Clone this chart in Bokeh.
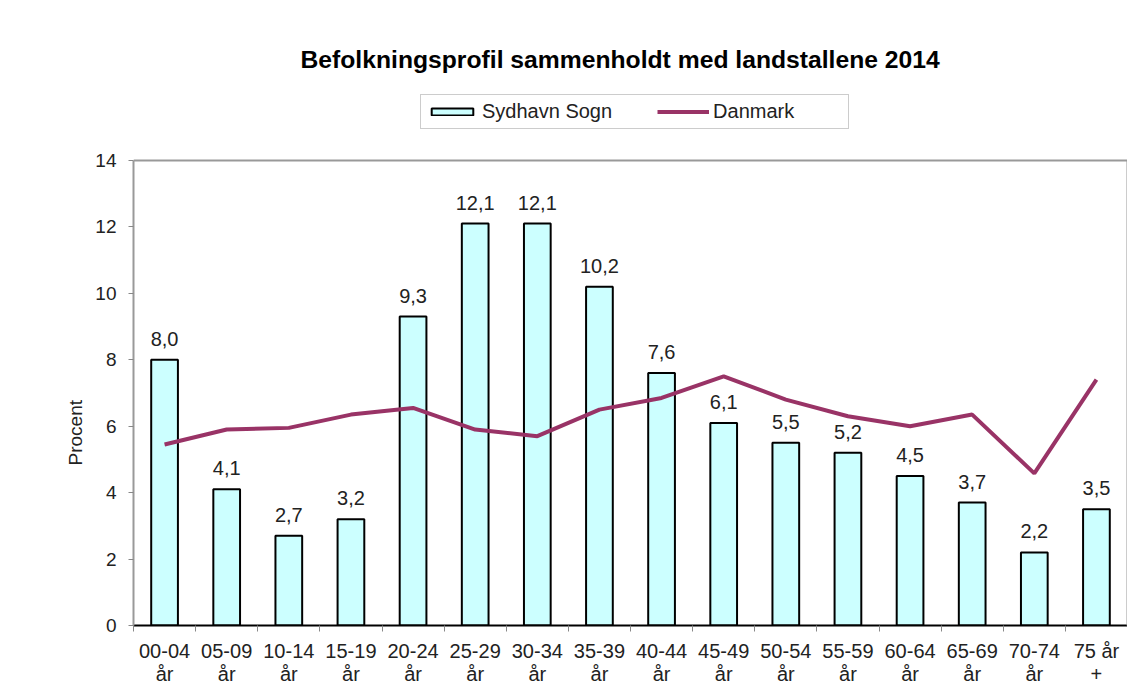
from bokeh.plotting import figure
from bokeh.models import (Range1d, FixedTicker, ColumnDataSource, LabelSet, Legend, LegendItem,
                          Title, Span, LinearAxis)
from bokeh.core.properties import value
from bokeh.embed import file_html
from bokeh.resources import INLINE

categories = ["00-04\når", "05-09\når", "10-14\når", "15-19\når", "20-24\når", "25-29\når",
              "30-34\når", "35-39\når", "40-44\når", "45-49\når", "50-54\når", "55-59\når",
              "60-64\når", "65-69\når", "70-74\når", "75 år\n+"]
sydhavn = [8.0, 4.1, 2.7, 3.2, 9.3, 12.1, 12.1, 10.2, 7.6, 6.1, 5.5, 5.2, 4.5, 3.7, 2.2, 3.5]
danmark = [5.45, 5.9, 5.95, 6.35, 6.55, 5.9, 5.7, 6.5, 6.85, 7.5, 6.8, 6.3, 6.0, 6.35, 4.58, 7.4]
y_ticks = [0, 2, 4, 6, 8, 10, 12, 14]
Y_MAX = 14

FONT = "Liberation Sans"
xs = list(range(len(categories)))
labels = [f"{v:.1f}".replace(".", ",") for v in sydhavn]

src = ColumnDataSource(dict(x=xs, top=sydhavn, dk=danmark, lab=labels))

# frame extends above the value axis so the legend (inside the frame) is not clipped
p = figure(width=1127, height=690, output_backend="svg", toolbar_location=None,
           x_range=Range1d(-0.5, len(categories) - 0.5), y_range=Range1d(0, 16.4086),
           min_border_left=133, min_border_right=0, min_border_top=80, min_border_bottom=65)
p.title = Title(text="Befolkningsprofil sammenholdt med landstallene 2014", align="left",
                text_font=FONT, text_font_size="24.7px", text_font_style="bold",
                text_color="black", offset=167, standoff=15)
p.xgrid.visible = False
p.ygrid.visible = False
p.outline_line_color = None

bars = p.vbar(x="x", top="top", width=0.43, bottom=0, source=src,
              fill_color="#CCFFFF", line_color="black", line_width=2)
line = p.line(x="x", y="dk", source=src, line_color="#993366", line_width=4)

ls = LabelSet(x="x", y="top", text="lab", source=src, text_align="center",
              text_baseline="alphabetic", y_offset=14, text_font=value(FONT),
              text_font_size=value("20px"), text_color="#222222")
p.add_layout(ls)

# top frame line at the axis maximum
p.add_layout(Span(location=Y_MAX, dimension="width", line_color="#999999", line_width=2))

# axes
xa = p.xaxis[0]
xa.ticker = FixedTicker(ticks=xs, minor_ticks=[i - 0.5 for i in range(len(categories) + 1)])
xa.major_label_overrides = {i: c for i, c in enumerate(categories)}
xa.major_tick_line_color = None
xa.minor_tick_in = 0
xa.minor_tick_out = 6
xa.minor_tick_line_color = "#888888"
xa.axis_line_color = "black"
xa.axis_line_width = 2
xa.major_label_text_font = FONT
xa.major_label_text_font_size = "20px"
xa.major_label_text_color = "#222222"
xa.major_label_standoff = 8
xa.major_label_text_line_height = 1.05

ya = p.yaxis[0]
ya.ticker = FixedTicker(ticks=y_ticks, minor_ticks=[])
ya.bounds = (0, Y_MAX)
ya.major_tick_in = 0
ya.major_tick_out = 5
ya.major_tick_line_color = "#888888"
ya.axis_line_color = "#999999"
ya.axis_line_width = 2
ya.major_label_text_font = FONT
ya.major_label_text_font_size = "19px"
ya.major_label_text_color = "#222222"
ya.major_label_standoff = 12

ytitle = Title(text="Procent", align="left", offset=160, standoff=13,
               text_font=FONT, text_font_size="19px", text_font_style="normal",
               text_color="#222222")
p.add_layout(ytitle, "left")

ra = LinearAxis(ticker=FixedTicker(ticks=[], minor_ticks=[]), bounds=(0, Y_MAX),
                axis_line_color="#999999", axis_line_width=2,
                major_tick_in=0, major_tick_out=0, major_label_text_font_size="0px",
                major_label_standoff=0)
p.add_layout(ra, "right")

legend = Legend(items=[LegendItem(label="Sydhavn Sogn", renderers=[bars]),
                       LegendItem(label="Danmark", renderers=[line])],
                orientation="horizontal", location=(287, 496),
                label_text_font=FONT, label_text_font_size="20px", label_text_color="#222222",
                glyph_width=52, glyph_height=9, label_standoff=4, spacing=45,
                label_height=14, padding=5, margin=0, label_width=130,
                border_line_color="#999999", border_line_width=1,
                background_fill_color="white", background_fill_alpha=1)
p.add_layout(legend)

open("out.html", "w").write(file_html(p, INLINE))
